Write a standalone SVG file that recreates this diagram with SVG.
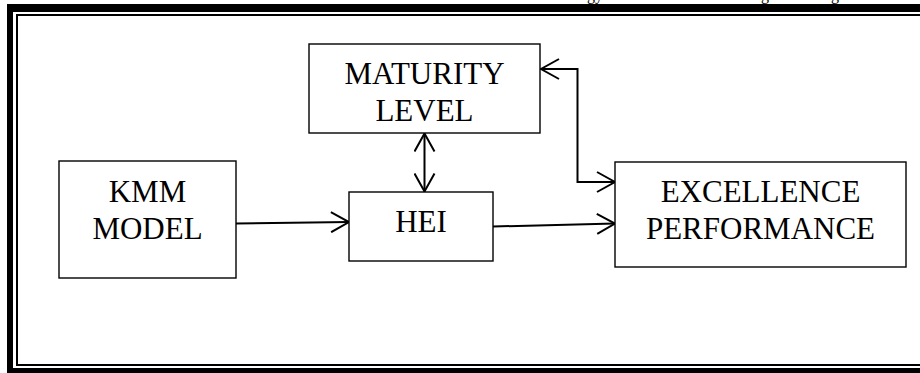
<svg xmlns="http://www.w3.org/2000/svg" width="920" height="373" viewBox="0 0 920 373">
<style>
.box{fill:#fff;stroke:#000;stroke-width:1.4}
.lbl{font-family:"Liberation Serif","Times New Roman",serif;font-size:31px;fill:#000;text-anchor:middle}
.hdr{font-family:"Liberation Serif","Times New Roman",serif;font-size:16px;fill:#000}
.con{fill:none;stroke:#000;stroke-width:2}
</style>
<defs>
<marker id="arr" viewBox="0 0 22 22" refX="20" refY="11" markerWidth="22" markerHeight="22" markerUnits="userSpaceOnUse" orient="auto-start-reverse">
<path d="M2,1 L20,11 L2,21" fill="none" stroke="#000" stroke-width="2"/>
</marker>
</defs>
<rect width="920" height="373" fill="#fff"/>
<g id="header-fragments">
<text class="hdr" x="587" y="-0.5">gy</text>
<text class="hdr" x="761" y="-0.5">g</text>
<text class="hdr" x="831" y="-0.5">g</text>
</g>
<g id="frame">
<rect x="7" y="4" width="913" height="8" fill="#000"/>
<rect x="7" y="4" width="6" height="369" fill="#000"/>
<rect x="7" y="368" width="913" height="5" fill="#000"/>
<path d="M921,15 H17 V365 H921" fill="none" stroke="#000" stroke-width="2"/>
</g>
<g id="connectors">
<path class="con" d="M236,223.5 L349,222" marker-end="url(#arr)"/>
<path class="con" d="M493,226.5 L615,223.5" marker-end="url(#arr)"/>
<path class="con" d="M424.5,133.5 V191.5" marker-start="url(#arr)" marker-end="url(#arr)"/>
<path class="con" d="M541,69 H577.5 V182 H615" marker-start="url(#arr)" marker-end="url(#arr)"/>
</g>
<g id="maturity">
<rect class="box" x="309" y="44" width="231" height="89"/>
<text class="lbl" x="424.5" y="84">MATURITY</text>
<text class="lbl" x="424.5" y="120.5">LEVEL</text>
</g>
<g id="kmm">
<rect class="box" x="59" y="161" width="177" height="117"/>
<text class="lbl" x="147.5" y="201.5">KMM</text>
<text class="lbl" x="147.5" y="239">MODEL</text>
</g>
<g id="hei">
<rect class="box" x="349" y="192" width="144" height="69"/>
<text class="lbl" x="421" y="231.5">HEI</text>
</g>
<g id="excellence">
<rect class="box" x="615" y="162" width="291" height="105"/>
<text class="lbl" x="760.5" y="201.5">EXCELLENCE</text>
<text class="lbl" x="760.5" y="239">PERFORMANCE</text>
</g>
</svg>
